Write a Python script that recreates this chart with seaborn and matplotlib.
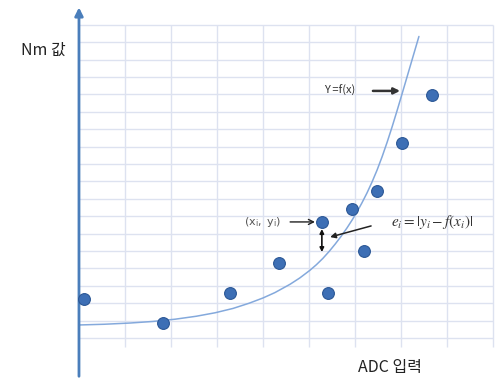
import matplotlib
matplotlib.use("Agg")
import matplotlib.pyplot as plt
import seaborn as sns
import pandas as pd

# measured points (grid units: x = column, y = row above first grid line)
adc_x = [0.11, 1.83, 3.28, 4.35, 5.41, 5.28, 5.93, 6.20, 6.48, 7.02, 7.67]
nm_y = [2.24, 0.86, 2.59, 4.31, 2.59, 6.67, 7.41, 5.00, 8.45, 11.21, 13.97]

# fitted curve Y = f(x)
fit_x = [0.02, 0.55, 1.11, 1.60, 2.09, 2.55, 2.96, 3.35, 3.70, 4.00, 4.26,
         4.59, 4.80, 5.02, 5.16, 5.30, 5.44, 5.57, 5.70, 5.83, 5.94, 6.04,
         6.15, 6.26, 6.37, 6.48, 6.59, 6.70, 6.81, 6.92, 7.02, 7.12, 7.22,
         7.31, 7.39]
fit_y = [0.75, 0.79, 0.86, 0.95, 1.08, 1.25, 1.45, 1.70, 2.00, 2.30, 2.61,
         3.09, 3.45, 3.89, 4.21, 4.57, 4.98, 5.40, 5.85, 6.34, 6.79, 7.23,
         7.76, 8.33, 8.96, 9.65, 10.42, 11.26, 12.16, 13.11, 14.00, 14.90,
         15.80, 16.61, 17.33]

x_label = "ADC 입력"
y_label = "Nm 값"

sns.set_style("white")
plt.rcParams['font.family'] = ['Noto Sans CJK KR', 'DejaVu Sans']

fig = plt.figure(figsize=(4.98, 3.80), dpi=100)
ax = fig.add_axes([0, 0, 1, 1])
ax.set_xlim(-1.717, 9.109)
ax.set_ylim(-2.414, 19.425)
ax.axis("off")

axis_col = "#4a7ebb"
grid_col = "#dde2f0"
x_axis_y = -0.29

# grid
ax.hlines(range(19), 0, 9, color=grid_col, lw=1, zorder=0)
ax.vlines(range(1, 10), x_axis_y - 0.25, 18, color=grid_col, lw=1, zorder=0)

# axes with arrow heads
ax.annotate("", xy=(9.12, x_axis_y), xytext=(-0.52, x_axis_y),
            arrowprops=dict(arrowstyle="-|>", color=axis_col, lw=2,
                            mutation_scale=12, shrinkA=0, shrinkB=0))
ax.annotate("", xy=(0, 19.0), xytext=(0, -2.2),
            arrowprops=dict(arrowstyle="-|>", color=axis_col, lw=2,
                            mutation_scale=12, shrinkA=0, shrinkB=0))

fit = pd.DataFrame({"x": fit_x, "y": fit_y})
pts = pd.DataFrame({"x": adc_x, "y": nm_y})

sns.lineplot(data=fit, x="x", y="y", sort=False, estimator=None,
             color="#84a9dc", lw=1.1, ax=ax, zorder=2)
sns.scatterplot(data=pts, x="x", y="y", s=72, color="#3d6fb5",
                edgecolor="#2b5795", linewidth=0.8, ax=ax, zorder=3)
ax.axis("off")

# labels
ax.text(-0.78, 16.55, y_label, ha="center", va="center", fontsize=11.5,
        color="#222222")
ax.text(6.76, -1.72, x_label, ha="center", va="center", fontsize=11.5,
        color="#222222")

# annotations
ax.text(5.67, 14.2, "Y =f(x)", ha="center", va="center", fontsize=8,
        color="#333333")
ax.annotate("", xy=(6.98, 14.2), xytext=(6.39, 14.2),
            arrowprops=dict(arrowstyle="-|>", color="#333333", lw=1.8,
                            mutation_scale=9, shrinkA=0, shrinkB=0))

ax.text(4.0, 6.67, r"$\mathrm{(x_i,\ y_i)}$", ha="center", va="center",
        fontsize=8, color="#555555")
ax.annotate("", xy=(5.13, 6.67), xytext=(4.59, 6.67),
            arrowprops=dict(arrowstyle="->", color="#222222", lw=1,
                            mutation_scale=9, shrinkA=0, shrinkB=0))

ax.text(7.67, 6.67, r"$e_i = |y_i - f(x_i)|$", ha="center", va="center",
        fontsize=11, color="#333333", math_fontfamily="stix")
ax.annotate("", xy=(5.46, 5.80), xytext=(6.35, 6.44),
            arrowprops=dict(arrowstyle="-|>", color="#222222", lw=1.1,
                            mutation_scale=8, shrinkA=0, shrinkB=0))
ax.annotate("", xy=(5.28, 4.94), xytext=(5.28, 6.26),
            arrowprops=dict(arrowstyle="<|-|>", color="#111111", lw=1.2,
                            mutation_scale=6, shrinkA=0, shrinkB=0))

fig.savefig("out.png", dpi=100)
